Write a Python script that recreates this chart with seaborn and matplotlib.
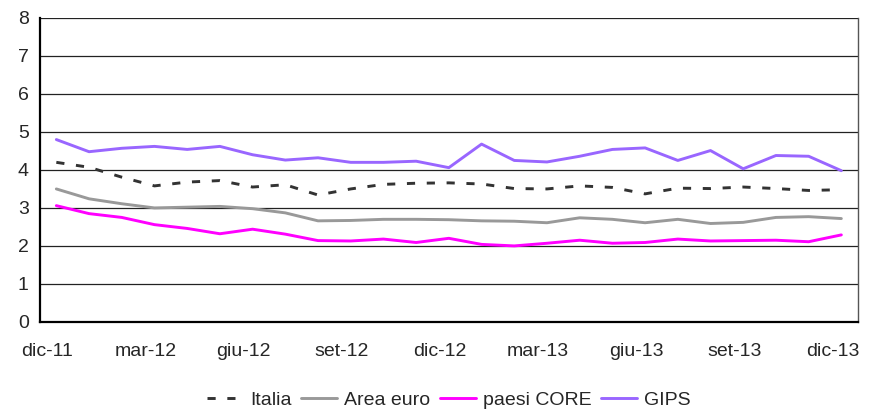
import seaborn as sns
import matplotlib.pyplot as plt
import pandas as pd
import numpy as np

mesi = ['dic-11', 'gen-12', 'feb-12', 'mar-12', 'apr-12', 'mag-12', 'giu-12',
        'lug-12', 'ago-12', 'set-12', 'ott-12', 'nov-12', 'dic-12', 'gen-13',
        'feb-13', 'mar-13', 'apr-13', 'mag-13', 'giu-13', 'lug-13', 'ago-13',
        'set-13', 'ott-13', 'nov-13', 'dic-13']

italia = [4.20, 4.07, 3.81, 3.58, 3.68, 3.72, 3.55, 3.61, 3.34, 3.50, 3.62, 3.65, 3.66,
          3.63, 3.51, 3.50, 3.58, 3.54, 3.37, 3.52, 3.51, 3.55, 3.51, 3.46, 3.48]
area_euro = [3.50, 3.24, 3.11, 3.00, 3.02, 3.04, 2.98, 2.87, 2.66, 2.67, 2.70, 2.70, 2.69,
             2.66, 2.65, 2.61, 2.74, 2.70, 2.61, 2.70, 2.59, 2.62, 2.75, 2.77, 2.72]
core = [3.06, 2.85, 2.75, 2.56, 2.46, 2.32, 2.44, 2.31, 2.14, 2.13, 2.18, 2.09, 2.20,
        2.04, 2.00, 2.07, 2.15, 2.07, 2.09, 2.18, 2.13, 2.14, 2.15, 2.11, 2.29]
gips = [4.80, 4.48, 4.57, 4.62, 4.54, 4.62, 4.40, 4.26, 4.32, 4.20, 4.20, 4.23, 4.06,
        4.68, 4.25, 4.21, 4.36, 4.54, 4.58, 4.25, 4.51, 4.03, 4.38, 4.36, 3.98]

sns.set_theme(style='white')
plt.rcParams['font.family'] = ['Liberation Sans', 'DejaVu Sans']

x = np.arange(len(mesi))
df = pd.DataFrame({'x': x, 'Italia': italia, 'Area euro': area_euro,
                   'paesi CORE': core, 'GIPS': gips})

fig = plt.figure(figsize=(8.69, 4.09), dpi=100)
ax = fig.add_axes([0.046, 0.213, 0.941, 0.743])

for y in range(0, 9):
    ax.axhline(y, color='#222222', linewidth=0.9, zorder=0)

lw = 2.1
dash = [2.8, 4.0]
sns.lineplot(data=df, x='x', y='Italia', ax=ax, color='#333333', linewidth=lw,
             label='Italia')
ax.lines[-1].set_dashes(dash)
sns.lineplot(data=df, x='x', y='Area euro', ax=ax, color='#999999', linewidth=lw,
             label='Area euro')
sns.lineplot(data=df, x='x', y='paesi CORE', ax=ax, color='#FF00FF', linewidth=lw,
             label='paesi CORE')
sns.lineplot(data=df, x='x', y='GIPS', ax=ax, color='#9966FF', linewidth=lw,
             label='GIPS')

ax.set_xlim(-0.5, len(mesi) - 0.5)
ax.set_ylim(0, 8)
ax.set_yticks(range(0, 9))
ax.set_xticks(np.arange(-0.5, len(mesi), 3))
ax.set_xticklabels([])
ax.set_xticks(x[::3] - 0.27, minor=True)
ax.set_xticklabels(mesi[::3], minor=True)
ax.tick_params(axis='x', which='major', direction='out', length=5, width=1.2, color='black')
ax.tick_params(axis='x', which='minor', length=0, pad=15, labelsize=14)
ax.tick_params(axis='y', direction='out', length=5, width=1.2, color='black',
               labelsize=14, pad=3)
ax.set_xlabel('')
ax.set_ylabel('')

for s in ['left', 'bottom']:
    ax.spines[s].set_color('black')
    ax.spines[s].set_linewidth(1.6)
ax.spines['right'].set_color('#555555')
ax.spines['right'].set_linewidth(1.0)
ax.spines['top'].set_visible(False)

leg = ax.legend(loc='upper center', bbox_to_anchor=(0.5, -0.17), ncol=4, frameon=False,
                fontsize=14, handlelength=1.85, columnspacing=0.5, handletextpad=0.36)
leg.get_lines()[0].set_dashes(dash)

plt.savefig('out.png', dpi=100)
